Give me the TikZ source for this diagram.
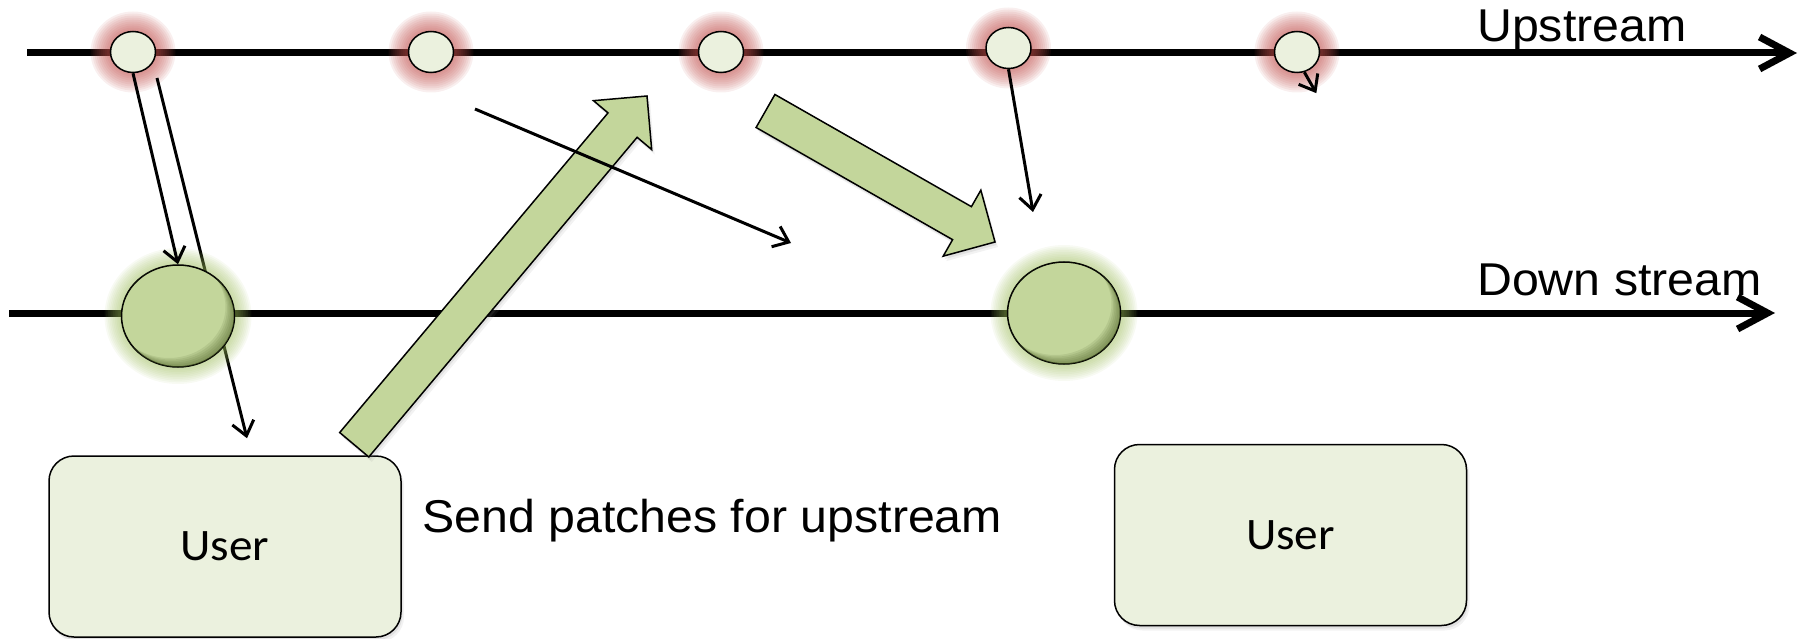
\documentclass[tikz,border=0pt]{standalone}
\usepackage{fontspec}
\setmainfont{Liberation Sans}[FakeStretch=1.05]
\newfontfamily\userfont{Carlito}[FakeStretch=1.05]
\usepackage{xcolor}
\usetikzlibrary{shapes,arrows.meta,positioning,shadows,calc}
\definecolor{commitfill}{HTML}{EBF1DE}
\definecolor{mergefill}{HTML}{C3D69B}
\definecolor{glowred}{HTML}{C0504D}
\definecolor{glowgreen}{HTML}{9BBB59}
\definecolor{rimshade}{HTML}{4F6228}
\pgfdeclarelayer{background}
\pgfsetlayers{background,main}

\begin{document}
\begin{tikzpicture}[
    x=1pt, y=-1pt,
    commit/.style={ellipse, draw, line width=1.5pt, fill=commitfill, minimum width=45pt, minimum height=41pt, inner sep=0pt},
    mergept/.style={ellipse, draw, line width=1.5pt, fill=mergefill, minimum width=113pt, minimum height=102pt, inner sep=0pt},
    softshadow/.style={drop shadow={shadow xshift=3pt, shadow yshift=-5pt, opacity=0.10}, drop shadow={shadow xshift=1.5pt, shadow yshift=-3pt, opacity=0.15}},
    userbox/.style={rectangle, draw, line width=1.5pt, rounded corners=25pt, fill=commitfill, minimum width=352pt, minimum height=181pt, font=\userfont\fontsize{45}{54}\selectfont, softshadow},
    streamtext/.style={font=\fontsize{46}{55}\selectfont, inner sep=0pt, anchor=base west},
    mainline/.style={line width=7pt, -{Straight Barb[length=30pt, width=32pt]}},
    thinarrow/.style={line width=3pt, -{Straight Barb[length=14pt, width=22pt]}},
    fatarrow/.style={draw, line width=1.5pt, fill=mergefill, line join=miter, softshadow}
]
\useasboundingbox (0,0) rectangle (1802,639);

% commits on the upstream branch
\node[commit] (c1) at (133,52) {};
\node[commit, right=251.5pt of c1] (c2) {};
\node[commit, right=243.5pt of c2] (c3) {};
\node[commit, right=241pt of c3, yshift=4pt] (c4) {};
\node[commit, right=242pt of c4, yshift=-4pt] (c5) {};

% merges on the down stream branch
\node[mergept] (d1) at (178,316) {};
\node[mergept] (d2) at (1064,313) {};

\node[userbox] (u1) at (225,546.5) {User};
\node[userbox] (u2) at (1290.5,535) {User};

\node[streamtext] (uplabel) at (1477,42) {Upstream};
\node[streamtext] (downlabel) at (1477,295) {Down stream};
\node[streamtext] (sendlabel) at (422,532) {Send patches for upstream};

\coordinate (upstart) at (27,53);
\coordinate (upend) at (1797,53);
\coordinate (downstart) at (9,313);
\coordinate (downend) at (1775,313);
\coordinate (c1go) at ($(c1)+(24,26)$);
\coordinate (u1in) at ($(u1.north)+(22,-17)$);
\coordinate (driftstart) at (475,109);
\coordinate (driftend) at (791,243);
\coordinate (c4to) at (1033,212);
\coordinate (sendtail) at ($(u1.north east)+(-47.5,-10.5)$);
\coordinate (sendtip) at (647,96);
\coordinate (mergetail) at (765.5,111);
\coordinate (mergetip) at (995,242);

\begin{pgfonlayer}{background}
\draw[mainline] (upstart) -- (upend);
\draw[mainline] (downstart) -- (downend);
\foreach \n in {c1,c2,c3,c4,c5}
  \foreach \g in {1,...,10}
    \fill[glowred, opacity=0.09] (\n) ellipse ({22.5pt+2pt*\g} and {20.5pt+2pt*\g});
% goes behind the first merge
\draw[thinarrow] (c1go) -- (u1in);
\foreach \n in {d1,d2}
  \foreach \g in {1,...,10}
    \fill[glowgreen, opacity=0.07] (\n) ellipse ({56.5pt+1.7pt*\g} and {51pt+1.7pt*\g});
\end{pgfonlayer}

% dark rim inside the merges
\foreach \n in {d1,d2} {
  \begin{scope}
    \clip (\n) ellipse (56.5pt and 51pt);
    \foreach \s in {1.5,3,...,9}
      \fill[rimshade, opacity=0.12, even odd rule] (\n) ellipse (56.5pt and 51pt) ($(\n)+(-\s,-\s)$) ellipse (56.5pt and 51pt);
  \end{scope}
}

\foreach \tail/\tip in {sendtail/sendtip, mergetail/mergetip} {
  \coordinate (hb) at ($(\tip)!38pt!(\tail)$);
  \path[fatarrow] ($(\tail)!19pt!90:(\tip)$) -- ($(hb)!19pt!90:(\tip)$) -- ($(hb)!38pt!90:(\tip)$) -- (\tip)
    -- ($(hb)!38pt!-90:(\tip)$) -- ($(hb)!19pt!-90:(\tip)$) -- ($(\tail)!19pt!-90:(\tip)$) -- cycle;
}

\draw[thinarrow] (c1.south) -- (d1.north);
\draw[thinarrow] (driftstart) -- (driftend);
\draw[thinarrow] (c4.south) -- (c4to);
\draw[thinarrow] (c5.-70) -- ++(12,21);
\end{tikzpicture}
\end{document}
